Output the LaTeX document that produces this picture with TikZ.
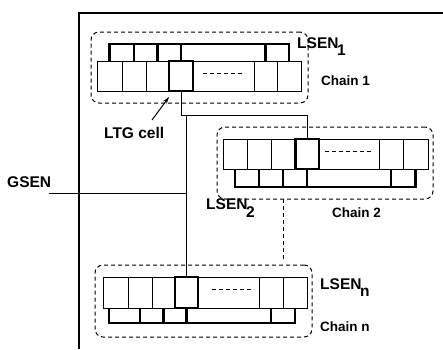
\documentclass[tikz,border=0pt]{standalone}
\usepackage{fontspec}
\setmainfont{Liberation Sans}
\usetikzlibrary{arrows.meta}
\begin{document}
\begin{tikzpicture}[x=1pt,y=-1pt,
 cell/.style={draw, line width=1pt, inner sep=0pt, outer sep=0pt, minimum height=30pt},
 boldcell/.style={cell, line width=2.5pt},
 bus/.style={line width=2.2pt, line join=miter},
 group/.style={draw, dash pattern=on 4pt off 3pt, rounded corners=8pt, line width=1pt, inner sep=0pt, outer sep=0pt},
 wire/.style={line width=1pt},
 link/.style={line width=1pt, dash pattern=on 4pt off 3pt},
 frame/.style={line width=1.1pt},
 dots/.style={dash pattern=on 4pt off 3pt, line width=1pt},
 lbl/.style={anchor=base west, inner sep=0pt, font=\fontsize{15.5}{16}\selectfont\bfseries},
 chainlbl/.style={anchor=base west, inner sep=0pt, font=\fontsize{13.5}{14}\selectfont\bfseries}
]
\useasboundingbox (0,0) rectangle (443,349);

% outer frame
\coordinate (fb) at (79,349);
\coordinate (ft) at (79,13);
\coordinate (fr) at (443,13);
\draw[frame] (fb) -- (ft) -- (fr);

% ---------- Chain 1 ----------
\node[group, minimum width=217pt, minimum height=71pt] (G1) at (199.5,67.5) {};
\node[cell, minimum width=25pt] (a1) at (109.5,76) {};
\node[cell, minimum width=24pt] (b1) at (134,76) {};
\node[cell, minimum width=23pt] (c1) at (157.5,76) {};
\node[cell, minimum width=61pt] (e1) at (223.5,76) {};
\node[cell, minimum width=23pt] (f1) at (265.5,76) {};
\node[cell, minimum width=24pt] (g1) at (289,76) {};
\node[boldcell, minimum width=24pt] (d1) at (181,76) {};
\draw[dots] ([shift={(-20.5,-3)}]e1.center) -- ([shift={(21.5,-3)}]e1.center);
\coordinate (bus1) at (0,44);
\draw[bus] (a1.north) -- (a1.north |- bus1) -- (g1.north |- bus1) -- (g1.north);
\foreach \n in {b1,c1,d1,f1} \draw[bus] (\n.north) -- (\n.north |- bus1);

% ---------- Chain 2 ----------
\node[group, minimum width=216pt, minimum height=72pt] (G2) at (325,163) {};
\node[cell, minimum width=24pt] (a2) at (235,154) {};
\node[cell, minimum width=24pt] (b2) at (259,154) {};
\node[cell, minimum width=24.5pt] (c2) at (283.25,154) {};
\node[cell, minimum width=60.5pt] (e2) at (349.25,154) {};
\node[cell, minimum width=23.5pt] (f2) at (391.25,154) {};
\node[cell, minimum width=25pt] (g2) at (415.5,154) {};
\node[boldcell, minimum width=23.5pt] (d2) at (307.25,154) {};
\draw[dots] ([shift={(-24,-3)}]e2.center) -- ([shift={(24,-3)}]e2.center);
\coordinate (bus2) at (0,187);
\draw[bus] (a2.south) -- (a2.south |- bus2) -- (g2.south |- bus2) -- (g2.south);
\foreach \n in {b2,c2,d2,f2} \draw[bus] (\n.south) -- (\n.south |- bus2);

% ---------- Chain n ----------
\node[group, minimum width=217pt, minimum height=72pt] (Gn) at (203.5,301) {};
\node[cell, minimum width=25pt, minimum height=31pt] (an) at (115.5,292.5) {};
\node[cell, minimum width=24pt, minimum height=31pt] (bn) at (140,292.5) {};
\node[cell, minimum width=23pt, minimum height=31pt] (cn) at (163.5,292.5) {};
\node[cell, minimum width=61pt, minimum height=31pt] (en) at (228.5,292.5) {};
\node[cell, minimum width=24pt, minimum height=31pt] (fn) at (271,292.5) {};
\node[cell, minimum width=24pt, minimum height=31pt] (gn) at (295,292.5) {};
\node[boldcell, minimum width=23pt, minimum height=31pt] (dn) at (186.5,292.5) {};
\draw[dots] ([shift={(-16.5,-3)}]en.center) -- ([shift={(23.5,-3)}]en.center);
\coordinate (busn) at (0,323);
\coordinate (androp) at ([xshift=-6.5pt]an.south);
\draw[bus] (androp) -- (androp |- busn) -- (gn.south |- busn) -- (gn.south);
\foreach \n in {bn,cn,dn,fn} \draw[bus] (\n.south) -- (\n.south |- busn);

% ---------- connectors ----------
\coordinate (row) at (0,115);
\draw[wire] (d1.south) |- (d2.north |- row) -- (d2.north);
\draw[wire] (dn.north |- row) -- (dn.north);
\coordinate (gsenL) at (49,193);
\draw[wire] (gsenL) -- (gsenL -| dn.north);
\draw[link, shorten >=5pt] (G2.south -| c2.south) -- (Gn.north -| c2.south);
\coordinate (ltgtail) at (152,120);
\draw[wire, -{Stealth[length=7pt,width=4.5pt]}] (ltgtail) -- ([yshift=-6pt]d1.south west);

% ---------- labels ----------
\node[lbl] (lsen1) at (297,48) {LSEN\kern-1.5pt\raisebox{-7pt}{1}};
\node[chainlbl] (ch1) at (321,85) {Chain 1};
\node[lbl] (lsen2) at (206,209) {LSEN\kern-1.5pt\raisebox{-8pt}{2}};
\node[chainlbl] (ch2) at (332,217) {Chain 2};
\node[lbl] (lsenn) at (320,289) {LSEN\kern-1.5pt\raisebox{-7pt}{n}};
\node[chainlbl] (chn) at (320,331) {Chain n};
\node[lbl] (gsen) at (7,187) {GSEN};
\node[lbl] (ltg) at (104,138) {LTG cell};
\end{tikzpicture}
\end{document}
